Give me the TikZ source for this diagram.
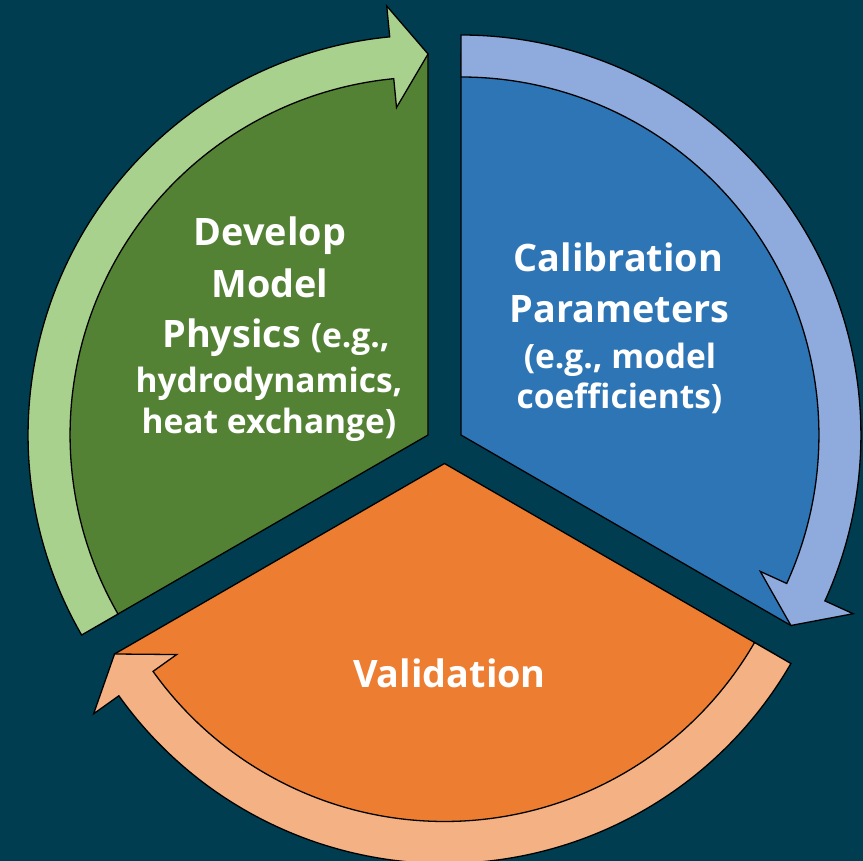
\documentclass[tikz,border=0pt]{standalone}
\usepackage{fontspec}
\setmainfont{Open Sans}
\definecolor{bgteal}{HTML}{003D51}
\definecolor{secgreen}{HTML}{548235}
\definecolor{secblue}{HTML}{2E75B6}
\definecolor{secorange}{HTML}{ED7D31}
\definecolor{arrgreen}{HTML}{A9D18E}
\definecolor{arrblue}{HTML}{8FAADC}
\definecolor{arrorange}{HTML}{F4B183}

% Curved ring arrow around a sector centre.
% #1 fill colour, #2 centre, #3 start angle, #4 angle of the head's back edge, #5 tip angle
\newcommand{\ringarrow}[5]{%
  \begin{scope}[shift={(#2)}]
    \filldraw[outline, fill=#1]
      (#3:400) arc[start angle=#3, end angle=#4, radius=400pt]
      -- (#4:431) -- (#5:381) -- (#4:329) -- (#4:358)
      arc[start angle=#4, end angle=#3, radius=358pt] -- cycle;
  \end{scope}}

\newcommand{\smallsize}{\fontsize{33.5}{38}\selectfont}

\begin{document}
\begin{tikzpicture}[x=1pt, y=1pt,
  outline/.style={draw=black, line width=1.3pt, line join=miter},
  bigtext/.style={text=white, anchor=base, inner sep=0pt,
                  font=\bfseries\fontsize{37.8}{42}\selectfont},
  smalltext/.style={bigtext, font=\bfseries\smallsize}]

\fill[bgteal] (0,0) rectangle (863,-861);
\useasboundingbox (0,0) rectangle (863,-861);
\clip (0,0) rectangle (863,-861);

% sector centres (exploded pie)
\coordinate (gc) at (428.05,-435);
\coordinate (bc) at (460.95,-435);
\coordinate (oc) at (444.5,-463.5);

% sectors reach out to the arrow tips; the ring arrows cover their rims
\filldraw[outline, fill=secgreen]  (gc) -- ++(90:381)  arc[start angle=90,  end angle=210, radius=381pt] -- cycle;
\filldraw[outline, fill=secblue]   (bc) -- ++(-30:381) arc[start angle=-30, end angle=90,  radius=381pt] -- cycle;
\filldraw[outline, fill=secorange] (oc) -- ++(210:381) arc[start angle=210, end angle=330, radius=381pt] -- cycle;

% ring arrows
\ringarrow{arrgreen}{gc}{210}{95.5}{90}
\ringarrow{arrblue}{bc}{90}{-24.5}{-30}
\ringarrow{arrorange}{oc}{-30}{-144.5}{-150}

% labels
\node[bigtext] (g1) at (270,-246) {Develop};
\node[bigtext] (g2) at (270,-298) {Model};
\node[bigtext] (g3) at (276,-348) {Physics {\smallsize (e.g.,}};
\node[smalltext] (g4) at (269,-392) {hydrodynamics,};
\node[smalltext] (g5) at (269,-433) {heat exchange)};

\node[bigtext] (b1) at (618.5,-272) {Calibration};
\node[bigtext] (b2) at (619.5,-323) {Parameters};
\node[smalltext] (b3) at (620,-368) {(e.g., model};
\node[smalltext] (b4) at (619.5,-408) {coefficients)};

\node[bigtext] (o1) at (449.5,-687) {Validation};
\end{tikzpicture}
\end{document}
